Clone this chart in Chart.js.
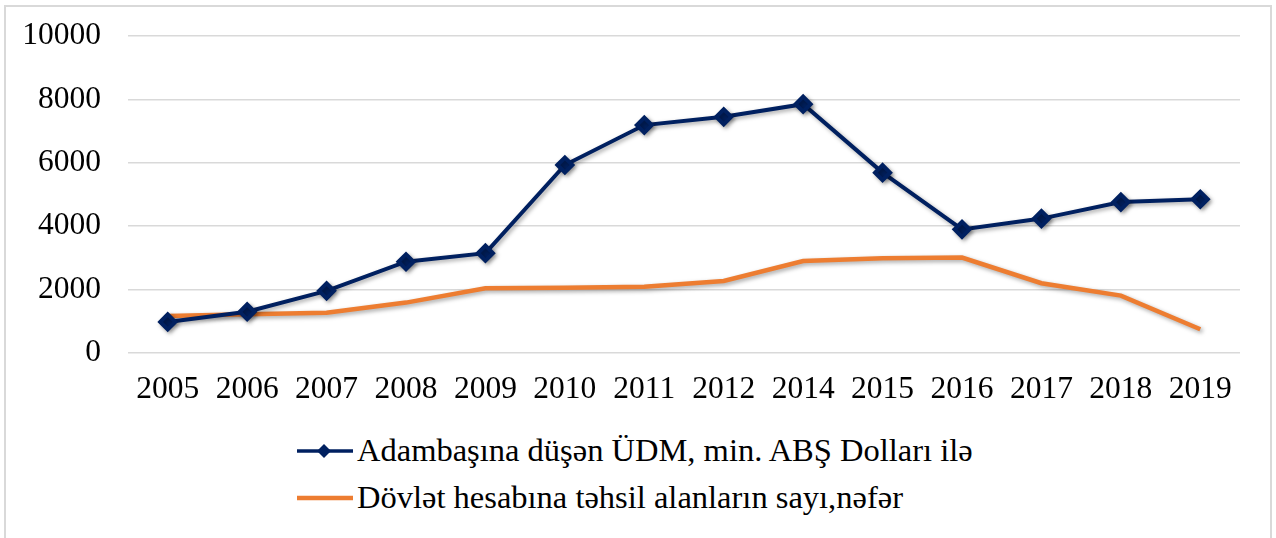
<!DOCTYPE html>
<html>
<head>
<meta charset="utf-8">
<script src="https://cdn.jsdelivr.net/npm/chart.js@4"></script>
<style>
  html, body { margin: 0; padding: 0; background: #fff; }
  body { width: 1276px; height: 538px; position: relative; overflow: hidden; font-family: "Liberation Serif", "Times New Roman", serif; }
  #frame { position: absolute; left: 4px; top: 5px; width: 1264px; height: 540px; border: 2px solid #d9d9d9; }
  #wrap { position: absolute; left: 0; top: 0; width: 1276px; height: 420px; }
  #legend { position: absolute; left: 297px; top: 427px; font-size: 32.5px; color: #000; }
  .item { display: flex; align-items: center; height: 47px; white-space: nowrap; }
  .item svg { margin-right: 4px; }
</style>
</head>
<body>
<div id="frame"></div>
<div id="wrap"><canvas id="canvas"></canvas></div>
<div id="legend"></div>
<script>
// categories and series
var years = ["2005", "2006", "2007", "2008", "2009", "2010", "2011", "2012", "2014", "2015", "2016", "2017", "2018", "2019"];
var gdpPerCapita = [980, 1300, 1960, 2880, 3150, 5930, 7190, 7450, 7850, 5690, 3900, 4240, 4760, 4850];
var stateFunded = [1170, 1220, 1270, 1590, 2040, 2060, 2090, 2270, 2900, 2990, 3010, 2200, 1810, 750];
var seriesNames = ["Adambaşına düşən ÜDM, min. ABŞ Dolları ilə", "Dövlət hesabına təhsil alanların sayı,nəfər"];
var yTicks = [0, 2000, 4000, 6000, 8000, 10000];

var navy = "#002060";
var orange = "#ED7D31";

Chart.defaults.font.family = "'Liberation Serif', 'Times New Roman', serif";

// soft drop shadow under the lines, like the office chart
var shadowPlugin = {
    id: "shadow",
    beforeDatasetDraw: function(chart) {
        var ctx = chart.ctx;
        ctx.save();
        ctx.shadowColor = "rgba(0,0,0,0.35)";
        ctx.shadowBlur = 4;
        ctx.shadowOffsetX = 2;
        ctx.shadowOffsetY = 2;
    },
    afterDatasetDraw: function(chart) {
        chart.ctx.restore();
    }
};

var ctx = document.getElementById("canvas").getContext("2d");
var chart = new Chart(ctx, {
    type: "line",
    data: {
        labels: years,
        datasets: [{
            label: seriesNames[0],
            data: gdpPerCapita,
            borderColor: navy,
            backgroundColor: navy,
            borderWidth: 4,
            pointStyle: "rectRot",
            pointRadius: 7.5,
            pointHoverRadius: 7.5,
            tension: 0
        }, {
            label: seriesNames[1],
            data: stateFunded,
            borderColor: orange,
            backgroundColor: orange,
            borderWidth: 4.5,
            pointRadius: 0,
            tension: 0
        }]
    },
    options: {
        responsive: true,
        maintainAspectRatio: false,
        animation: false,
        layout: { padding: { left: 0, right: 36, top: 36, bottom: 0 } },
        plugins: {
            legend: { display: false },
            tooltip: { enabled: false }
        },
        scales: {
            x: {
                offset: true,
                grid: { display: false, drawTicks: false },
                border: { display: false },
                ticks: {
                    color: "#000",
                    font: { size: 31.5 },
                    padding: 18,
                    maxRotation: 0,
                    autoSkip: false
                },
                afterFit: function(scale) { scale.height = 67; }
            },
            y: {
                min: 0,
                max: 10000,
                afterBuildTicks: function(scale) {
                    scale.ticks = yTicks.map(function(v) { return { value: v }; });
                },
                grid: { color: "#d9d9d9", lineWidth: 1.5, drawTicks: false },
                border: { display: false },
                ticks: {
                    color: "#000",
                    font: { size: 31.5 },
                    padding: 27,
                    callback: function(v) { return String(v); }
                },
                afterFit: function(scale) {
                    scale.width = 128;
                    scale.paddingTop = 0;
                    scale.paddingBottom = 0;
                }
            }
        }
    },
    plugins: [shadowPlugin]
});

// legend below, stacked like the reference
var legend = document.getElementById("legend");
var html = "";
html += '<div class="item"><svg width="56" height="20"><line x1="0" y1="10" x2="56" y2="10" stroke="' + navy + '" stroke-width="3.5"/>' +
        '<polygon points="27,3 34,10 27,17 20,10" fill="' + navy + '"/></svg>' + seriesNames[0] + '</div>';
html += '<div class="item"><svg width="56" height="20"><line x1="0" y1="10" x2="56" y2="10" stroke="' + orange + '" stroke-width="4.5"/></svg>' + seriesNames[1] + '</div>';
legend.innerHTML = html;
</script>
</body>
</html>
